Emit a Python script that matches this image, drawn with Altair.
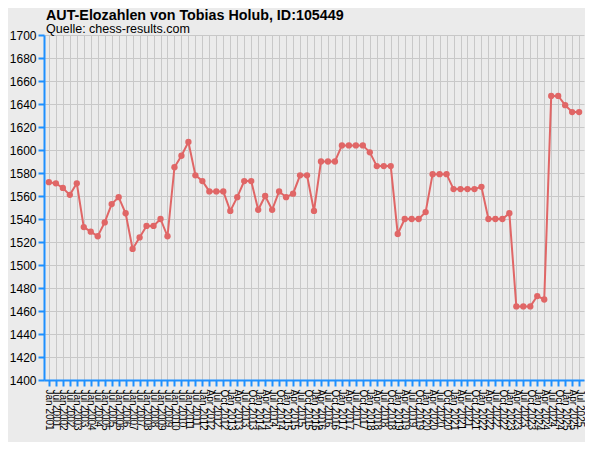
import altair as alt
import pandas as pd

periods = [
    "Jan 2001", "Jul 2001", "Jan 2002", "Jul 2002", "Jan 2003", "Jul 2003",
    "Jan 2004", "Jul 2004", "Jan 2005", "Jul 2005", "Jan 2006", "Jul 2006",
    "Jan 2007", "Jul 2007", "Jan 2008", "Jul 2008", "Jan 2009", "Jul 2009",
    "Jan 2010", "Jul 2010", "Jan 2011", "Jul 2011", "Jan 2012",
    "Apr 2012", "Jul 2012", "Oct 2012",
    "Jan 2013", "Apr 2013", "Jul 2013", "Oct 2013",
    "Jan 2014", "Apr 2014", "Jul 2014", "Oct 2014",
    "Jan 2015", "Apr 2015", "Jul 2015", "Oct 2015",
    "Jan 2016", "Apr 2016", "Jul 2016", "Oct 2016",
    "Jan 2017", "Apr 2017", "Jul 2017", "Oct 2017",
    "Jan 2018", "Apr 2018", "Jul 2018", "Oct 2018",
    "Jan 2019", "Apr 2019", "Jul 2019", "Oct 2019",
    "Jan 2020", "Apr 2020", "Jul 2020", "Oct 2020",
    "Jan 2021", "Apr 2021", "Jul 2021", "Oct 2021",
    "Jan 2022", "Apr 2022", "Jul 2022", "Oct 2022",
    "Jan 2023", "Apr 2023", "Jul 2023", "Oct 2023",
    "Jan 2024", "Apr 2024", "Jul 2024", "Oct 2024",
    "Jan 2025", "Apr 2025", "Jul 2025",
]

elo = [
    1572, 1571, 1567, 1561, 1571, 1533, 1529, 1525, 1537, 1553,
    1559, 1545, 1514, 1524, 1534, 1534, 1540, 1525, 1585, 1595,
    1607, 1578, 1573, 1564, 1564, 1564, 1547, 1559, 1573, 1573,
    1548, 1560, 1548, 1564, 1559, 1562, 1578, 1578, 1547, 1590,
    1590, 1590, 1604, 1604, 1604, 1604, 1598, 1586, 1586, 1586,
    1527, 1540, 1540, 1540, 1546, 1579, 1579, 1579, 1566, 1566,
    1566, 1566, 1568, 1540, 1540, 1540, 1545, 1464, 1464, 1464,
    1473, 1470, 1647, 1647, 1639, 1633, 1633,
]

y_ticks = [1400, 1420, 1440, 1460, 1480, 1500, 1520, 1540, 1560, 1580,
           1600, 1620, 1640, 1660, 1680, 1700]

df = pd.DataFrame({"period": periods, "elo": elo})

BLUE = "#1E90FF"
GRID = "#C8C8C8"
BG = "#EBEBEB"
RED = "#E06666"
FONT = "Liberation Sans"

base = alt.Chart(df).encode(
    x=alt.X(
        "period:O",
        sort=None,
        scale=alt.Scale(type="point", padding=0.7),
        axis=alt.Axis(
            title=None,
            labelAngle=90,
            labelAlign="left",
            labelBaseline="middle",
            labelFontSize=10,
            labelFont=FONT,
            labelColor="#000000",
            labelOverlap=False,
            labelFlush=False,
            labelBound=False,
            labelPadding=3,
            tickSize=6,
            tickWidth=2,
            tickColor=BLUE,
            domainColor=BLUE,
            domainWidth=2,
            grid=True,
            gridColor=GRID,
            gridWidth=1,
        ),
    ),
    y=alt.Y(
        "elo:Q",
        scale=alt.Scale(domain=[1400, 1700], nice=False, zero=False),
        axis=alt.Axis(
            title=None,
            values=y_ticks,
            format="d",
            labelFontSize=12,
            labelFont=FONT,
            labelColor="#000000",
            labelPadding=2,
            tickSize=6,
            tickWidth=2,
            tickColor=BLUE,
            domainColor=BLUE,
            domainWidth=2,
            grid=True,
            gridColor=GRID,
            gridWidth=1,
        ),
    ),
)

line = base.mark_line(color=RED, strokeWidth=2)
pts = base.mark_circle(size=40, color=RED, opacity=1)

chart = (
    (line + pts)
    .properties(
        width=540,
        height=345,
        background=BG,
        autosize=alt.AutoSizeParams(type="none"),
        padding={"left": 36, "top": 27, "right": 1, "bottom": 62},
        title=alt.Title(
            text="AUT-Elozahlen von Tobias Holub, ID:105449",
            subtitle="Quelle: chess-results.com",
            anchor="start",
            frame="group",
            font=FONT,
            fontSize=14.3,
            fontWeight="bold",
            color="#000000",
            subtitleFont=FONT,
            subtitleFontSize=12.5,
            subtitleColor="#000000",
            subtitlePadding=0,
            offset=-6.5,
            dx=2,
        ),
    )
    .configure_view(stroke=None, fill=BG)
)

chart.save("out.html", embed_options={"renderer": "svg", "actions": False})
